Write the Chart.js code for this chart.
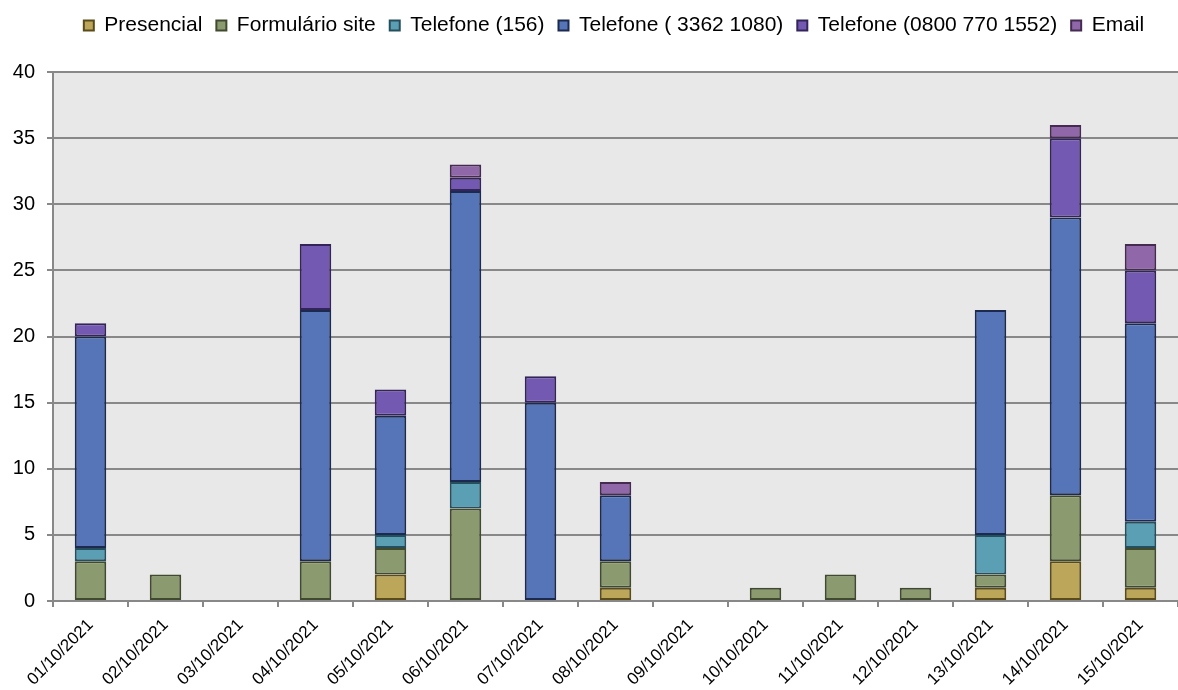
<!DOCTYPE html>
<html>
<head>
<meta charset="utf-8">
<script src="https://cdn.jsdelivr.net/npm/chart.js@4.4.0/dist/chart.umd.min.js"></script>
<style>
  html, body { margin: 0; padding: 0; background: #fff; }
  #wrap { width: 1178px; height: 690px; }
</style>
</head>
<body>
<div id="wrap"><canvas id="myChart" width="1178" height="690"></canvas></div>
<script>
var dias = [
  "01/10/2021", "02/10/2021", "03/10/2021", "04/10/2021", "05/10/2021",
  "06/10/2021", "07/10/2021", "08/10/2021", "09/10/2021", "10/10/2021",
  "11/10/2021", "12/10/2021", "13/10/2021", "14/10/2021", "15/10/2021"
];
var presencial  = [0, 0, 0, 0, 2, 0, 0, 1, 0, 0, 0, 0, 1, 3, 1];
var formulario  = [3, 2, 0, 3, 2, 7, 0, 2, 0, 1, 2, 1, 1, 5, 3];
var tel156      = [1, 0, 0, 0, 1, 2, 0, 0, 0, 0, 0, 0, 3, 0, 2];
var tel3362     = [16, 0, 0, 19, 9, 22, 15, 5, 0, 0, 0, 0, 17, 21, 15];
var tel0800     = [1, 0, 0, 5, 2, 1, 2, 0, 0, 0, 0, 0, 0, 6, 4];
var email       = [0, 0, 0, 0, 0, 1, 0, 1, 0, 0, 0, 0, 0, 1, 2];
var yTicks      = [0, 5, 10, 15, 20, 25, 30, 35, 40];

// zero = no segment drawn
function semZero(arr) {
  return arr.map(function (v) { return v === 0 ? null : v; });
}

function serie(nome, valores, cor, borda) {
  return {
    label: nome,
    data: semZero(valores),
    backgroundColor: cor,
    borderColor: borda,
    borderWidth: 2,
    borderSkipped: false,
    barPercentage: 1,
    categoryPercentage: 0.42
  };
}

var fundoPlot = {
  id: "fundoPlot",
  beforeDraw: function (chart) {
    var a = chart.chartArea;
    var c = chart.ctx;
    c.save();
    c.fillStyle = "#e8e8e8";
    c.fillRect(a.left, a.top, a.right - a.left, a.bottom - a.top);
    c.restore();
  }
};

// fixed legend height so the plot starts at y=72, legend nudged right
var alturaLegenda = {
  id: "alturaLegenda",
  beforeUpdate: function (chart) {
    var leg = chart.legend;
    if (leg && !leg._fitOk) {
      var fitOrig = leg.fit;
      leg.fit = function () {
        fitOrig.call(this);
        this.height = 71;
      };
      leg._fitOk = true;
    }
  },
  afterLayout: function (chart) {
    if (chart.legend) chart.legend.left += 50;
  }
};

Chart.defaults.font.family = "'Liberation Sans', Arial, sans-serif";
Chart.defaults.color = "#000";

var ctx = document.getElementById("myChart").getContext("2d");

var myChart = new Chart(ctx, {
  type: "bar",
  data: {
    labels: dias,
    datasets: [
      serie("Presencial", presencial, "#bba65a", "#5a4b18"),
      serie("Formulário site", formulario, "#8c9b6f", "#404a2e"),
      serie("Telefone (156)", tel156, "#5b9fb4", "#264f5e"),
      serie("Telefone ( 3362 1080)", tel3362, "#5675b9", "#1c2a50"),
      serie("Telefone (0800 770 1552)", tel0800, "#7459b2", "#33245a"),
      serie("Email", email, "#9068a9", "#452b52")
    ]
  },
  options: {
    responsive: false,
    animation: false,
    layout: { padding: { left: 0, right: 0, top: 1, bottom: 0 } },
    plugins: {
      legend: {
        position: "top",
        labels: {
          boxWidth: 10,
          boxHeight: 10,
          padding: 14,
          font: { size: 21 },
          color: "#000"
        }
      },
      tooltip: { enabled: false }
    },
    scales: {
      x: {
        stacked: true,
        offset: true,
        border: { color: "#888", width: 2 },
        grid: {
          offset: true,
          drawOnChartArea: false,
          drawTicks: true,
          tickLength: 6,
          color: "#888",
          lineWidth: 2
        },
        ticks: {
          minRotation: 45,
          maxRotation: 45,
          autoSkip: false,
          padding: 8,
          font: { size: 17 },
          color: "#000"
        },
        afterFit: function (s) { s.height = 89; }
      },
      y: {
        stacked: true,
        min: 0,
        max: 40,
        border: { color: "#888", width: 2 },
        grid: {
          color: "#888",
          lineWidth: 2,
          drawTicks: true,
          tickLength: 6
        },
        ticks: {
          stepSize: 5,
          font: { size: 20 },
          color: "#000",
          padding: 12,
          callback: function (v) { return yTicks.indexOf(v) >= 0 ? v : ""; }
        },
        afterFit: function (s) { s.width = 53; }
      }
    }
  },
  plugins: [fundoPlot, alturaLegenda]
});
</script>
</body>
</html>
